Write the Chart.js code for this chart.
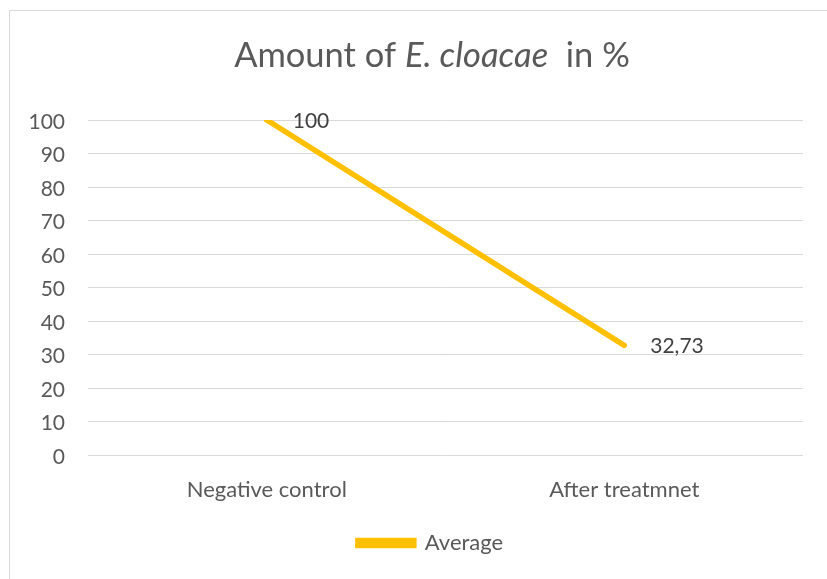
<!DOCTYPE html>
<html>
<head>
<meta charset="utf-8">
<script src="https://cdn.jsdelivr.net/npm/chart.js@4/dist/chart.umd.min.js"></script>
<style>
  html, body { margin: 0; padding: 0; background: #fff; }
  #box {
    position: absolute; left: 9px; top: 10px;
    width: 817px; height: 568px;
    border-left: 1px solid #d9d9d9; border-top: 1px solid #d9d9d9;
  }
</style>
</head>
<body>
<div id="box"><canvas id="chart"></canvas></div>
<script>
// data
const categories = ['Negative control', 'After treatmnet'];
const averageValues = [100, 32.73];
const valueLabels = ['100', '32,73'];
const yTicks = [0, 10, 20, 30, 40, 50, 60, 70, 80, 90, 100];

const FONT = 'Lato, "Open Sans", sans-serif';
const GREY = '#595959';

// title with an italic species name
const titlePlugin = {
    id: 'mixedTitle',
    afterDraw(chart) {
        const ctx = chart.ctx;
        const parts = [
            { t: 'Amount of ', f: '34.5px ' + FONT },
            { t: 'E. cloacae', f: 'italic 34.5px ' + FONT },
            { t: '  in %', f: '34.5px ' + FONT }
        ];
        ctx.save();
        let total = 0;
        parts.forEach(p => { ctx.font = p.f; p.w = ctx.measureText(p.t).width; total += p.w; });
        let x = 422 - total / 2;
        ctx.fillStyle = GREY;
        ctx.textBaseline = 'alphabetic';
        ctx.textAlign = 'left';
        parts.forEach(p => { ctx.font = p.f; ctx.fillText(p.t, x, 56); x += p.w; });
        ctx.restore();
    }
};

// value labels to the right of each point
const valueLabelPlugin = {
    id: 'valueLabels',
    afterDatasetsDraw(chart) {
        const ctx = chart.ctx;
        const meta = chart.getDatasetMeta(0);
        ctx.save();
        ctx.font = '21px ' + FONT;
        ctx.fillStyle = '#404040';
        ctx.textAlign = 'left';
        ctx.textBaseline = 'middle';
        meta.data.forEach((pt, i) => {
            ctx.fillText(valueLabels[i], pt.x + 26, pt.y + 1);
        });
        ctx.restore();
    }
};

const chart = new Chart(document.getElementById('chart'), {
    type: 'line',
    data: {
        labels: categories,
        datasets: [{
            label: 'Average',
            data: averageValues,
            borderColor: '#FFC000',
            backgroundColor: '#FFC000',
            borderWidth: 5.5,
            borderCapStyle: 'round',
            pointRadius: 0,
            pointHoverRadius: 0,
            fill: false,
            tension: 0
        }]
    },
    options: {
        responsive: true,
        maintainAspectRatio: false,
        animation: false,
        layout: { padding: { top: 109, right: 24, left: 0, bottom: 15 } },
        plugins: {
            title: { display: false },
            tooltip: { enabled: false },
            legend: {
                position: 'bottom',
                labels: {
                    color: GREY,
                    font: { family: FONT, size: 22 },
                    boxWidth: 56,
                    boxHeight: 5,
                    padding: 10
                }
            }
        },
        scales: {
            x: {
                offset: true,
                afterFit(scale) { scale.height = 67; },
                grid: { display: false, drawTicks: false },
                border: { display: false },
                ticks: { color: GREY, font: { family: FONT, size: 22 }, padding: 22 }
            },
            y: {
                min: 0,
                max: 100,
                afterBuildTicks(scale) { scale.ticks = yTicks.map(v => ({ value: v })); },
                afterFit(scale) { scale.width = 78; },
                grid: { color: '#d9d9d9', lineWidth: 1, drawTicks: false },
                border: { display: false },
                ticks: { color: GREY, font: { family: FONT, size: 21 }, padding: 23, labelOffset: 2 }
            }
        }
    },
    plugins: [titlePlugin, valueLabelPlugin]
});

// the legend sits a little right of the centre in the original
const legendDraw = chart.legend.draw;
chart.legend.draw = function () {
    chart.ctx.save();
    chart.ctx.translate(24, 0);
    legendDraw.apply(this, arguments);
    chart.ctx.restore();
};
chart.draw();
</script>
</body>
</html>
